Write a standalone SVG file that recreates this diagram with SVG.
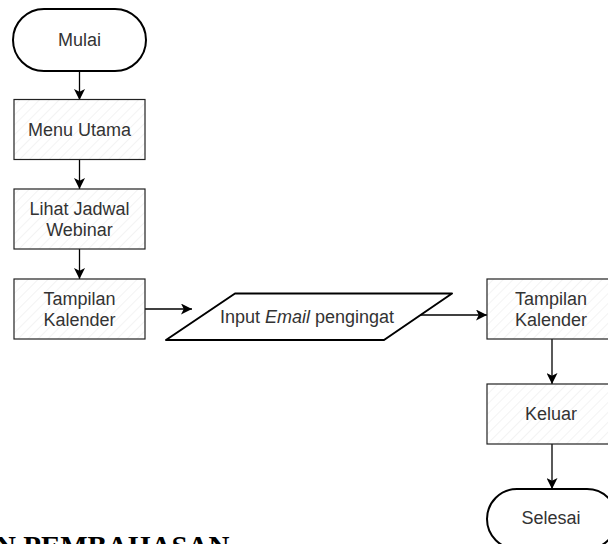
<svg xmlns="http://www.w3.org/2000/svg" width="608" height="544" viewBox="0 0 608 544">
<defs>
<style>
.t{font-family:"Liberation Sans",Arial,sans-serif;font-size:18px;fill:#333;text-anchor:middle;dominant-baseline:central}
.term{fill:#fff;stroke:#000;stroke-width:2}
.box{fill:url(#hatch);stroke:#222;stroke-width:1.2}
.io{fill:#fff;stroke:#000;stroke-width:2;stroke-linejoin:round}
.c{fill:none;stroke:#000;stroke-width:1.3}
.h{font-family:"Liberation Serif","Times New Roman",serif;font-size:29px;font-weight:bold;fill:#000}
</style>
<pattern id="hatch" patternUnits="userSpaceOnUse" width="7" height="7" patternTransform="rotate(45)">
<rect width="7" height="7" fill="#fff"/>
<line x1="0" y1="0" x2="0" y2="7" stroke="#ececec" stroke-width="1.2"/>
</pattern>
<marker id="arr" markerUnits="userSpaceOnUse" markerWidth="11" markerHeight="11" refX="10" refY="5" orient="auto" viewBox="0 0 10 10">
<path d="M0,0 L10,5 L0,10 L2.5,5 z" fill="#000"/>
</marker>
</defs>
<g id="connectors">
<line class="c" x1="79.5" y1="71" x2="79.5" y2="100" marker-end="url(#arr)"/>
<line class="c" x1="79.5" y1="159.5" x2="79.5" y2="189" marker-end="url(#arr)"/>
<line class="c" x1="79.5" y1="249" x2="79.5" y2="279" marker-end="url(#arr)"/>
<line class="c" x1="145" y1="309" x2="192" y2="309" marker-end="url(#arr)"/>
<line class="c" x1="420" y1="315" x2="487" y2="315" marker-end="url(#arr)"/>
<line class="c" x1="552" y1="339" x2="552" y2="384" marker-end="url(#arr)"/>
<line class="c" x1="552" y1="444" x2="552" y2="489" marker-end="url(#arr)"/>
</g>
<g id="mulai">
<rect class="term" x="13" y="9" width="133" height="62" rx="31" ry="31"/>
<text class="t" x="79.5" y="40">Mulai</text>
</g>
<g id="menu-utama">
<rect class="box" x="14" y="99.5" width="131" height="60"/>
<text class="t" x="79.5" y="129.5">Menu Utama</text>
</g>
<g id="lihat-jadwal">
<rect class="box" x="14" y="189" width="131" height="60"/>
<text class="t" x="79.5" y="209">Lihat Jadwal</text>
<text class="t" x="79.5" y="230">Webinar</text>
</g>
<g id="tampilan-kalender-1">
<rect class="box" x="14" y="279" width="131" height="60"/>
<text class="t" x="79.5" y="299">Tampilan</text>
<text class="t" x="79.5" y="320">Kalender</text>
</g>
<g id="input-email">
<polygon class="io" points="235,293.5 452,293.5 384,340 166,340"/>
<text class="t" x="307" y="317">Input <tspan font-style="italic">Email</tspan> pengingat</text>
</g>
<g id="tampilan-kalender-2">
<rect class="box" x="487" y="279" width="130" height="60"/>
<text class="t" x="551" y="299">Tampilan</text>
<text class="t" x="551" y="320">Kalender</text>
</g>
<g id="keluar">
<rect class="box" x="487" y="384" width="130" height="60"/>
<text class="t" x="551" y="414">Keluar</text>
</g>
<g id="selesai">
<rect class="term" x="487" y="489" width="130" height="60" rx="30" ry="30"/>
<text class="t" x="551" y="518">Selesai</text>
</g>
<text class="h" x="-5" y="556">N PEMBAHASAN</text>
</svg>
